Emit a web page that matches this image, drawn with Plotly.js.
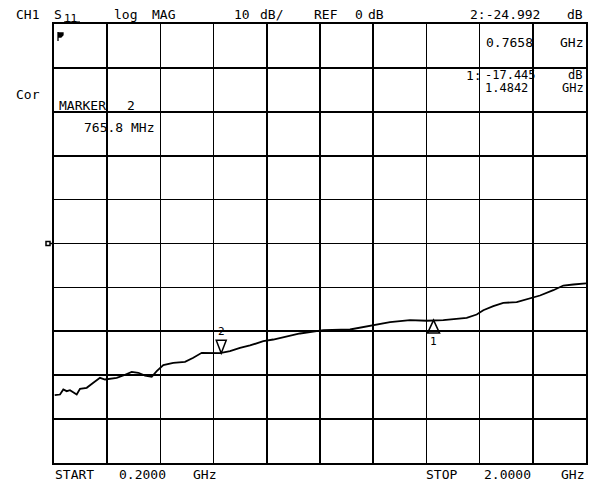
<!DOCTYPE html>
<html>
<head>
<meta charset="utf-8">
<script src="https://cdn.plot.ly/plotly-3.0.1.min.js"></script>
<style>html,body{margin:0;padding:0;background:#fff;}#chart{width:593px;height:483px;}</style>
</head>
<body>
<div id="chart"></div>
<script>
// Trace (frequency in GHz, S11 in dB)
const freqGHz = [0.2024,0.2203,0.2315,0.2430,0.2541,0.2653,0.2768,0.2880,0.3106,0.3330,0.3556,0.3726,0.3952,0.4121,0.4345,0.4629,0.4852,0.5079,0.5306,0.5475,0.5698,0.6036,0.6432,0.6713,0.6998,0.7278,0.7617,0.7955,0.8293,0.8632,0.9082,0.9420,0.9874,1.0323,1.0662,1.1112,1.2015,1.2692,1.3369,1.4045,1.4610,1.5172,1.5625,1.5963,1.6302,1.6525,1.6864,1.7202,1.7655,1.8105,1.8444,1.8894,1.9233,1.9570,1.9909,2.0000];
const s11dB = [-34.56,-34.40,-33.26,-33.64,-33.42,-33.87,-34.40,-33.10,-32.87,-31.73,-30.59,-30.98,-30.82,-30.59,-30.07,-29.23,-29.45,-30.07,-30.36,-29.09,-27.72,-27.18,-26.95,-26.04,-24.90,-24.90,-24.95,-24.53,-23.76,-23.23,-22.26,-21.87,-21.12,-20.50,-20.21,-19.75,-19.59,-18.84,-17.93,-17.47,-17.60,-17.47,-17.15,-16.92,-16.17,-15.19,-14.28,-13.51,-13.37,-12.60,-11.85,-10.64,-9.57,-9.34,-9.18,-9.10];

// Markers
const markerIds = ['1', '2'];
const markerFreq = [1.4842, 0.7658];
const markerDb = [-17.445, -24.992];

// Scale
const startGHz = 0.2, stopGHz = 2.0, divX = 10;
const refDb = 0, dbPerDiv = 10, divY = 10;

// Annotation texts: [text, left px, centre px, font size]
const textItems = [
  ['CH1', 15, 15, 13], ['S', 53, 15, 13], ['11', 63, 18, 11], ['log', 113, 15, 13], ['MAG', 151, 15, 13],
  ['10', 233, 15, 13], ['dB/', 259, 15, 13], ['REF', 313, 15, 13], ['0', 354, 15, 13], ['dB', 367, 15, 13],
  ['2:-24.992', 469, 15, 13], ['dB', 566, 15, 13],
  ['0.7658', 485, 43, 13], ['GHz', 559, 43, 13],
  ['1:', 465, 75, 13], ['-17.445', 484, 74.5, 12], ['dB', 567, 74.5, 12],
  ['1.4842', 484, 88, 12], ['GHz', 561, 88, 12],
  ['Cor', 15, 95, 13],
  ['MARKER', 58, 105, 13], ['2', 126, 105, 13],
  ['765.8', 83, 127, 13], ['MHz', 130, 127, 13],
  ['START', 54, 474, 13], ['0.2000', 118, 474, 13], ['GHz', 192, 474, 13],
  ['STOP', 425, 474, 13], ['2.0000', 483, 474, 13], ['GHz', 560, 474, 13]
];

const L = 54, T = 24, R = 586, B = 463;
const px = v => (v - L) / (R - L);
const py = v => (B - v) / (B - T);
const fam = 'DejaVu Sans Mono, monospace';

const annotations = textItems.map(t => ({
  text: t[0], xref: 'paper', yref: 'paper', x: px(t[1]), y: py(t[2]),
  xanchor: 'left', yanchor: 'middle', showarrow: false,
  font: {family: fam, size: t[3], color: '#000'}, borderpad: 0
}));
// marker labels
markerIds.forEach((id, i) => {
  annotations.push({
    text: id, xref: 'x', yref: 'y', x: markerFreq[i], y: markerDb[i],
    yshift: id === '2' ? 22 : -21, showarrow: false,
    font: {family: fam, size: 11, color: '#000'}
  });
});

const shapes = [];
markerIds.forEach((id, i) => {
  const path = id === '2' ? 'M0,0 L-5,13 L5,13 Z' : 'M0,0 L-6,-13 L6,-13 Z';
  shapes.push({
    type: 'path', xref: 'x', yref: 'y', xsizemode: 'pixel', ysizemode: 'pixel',
    xanchor: markerFreq[i], yanchor: markerDb[i], path: path,
    line: {color: '#000', width: 1.5}, fillcolor: 'rgba(0,0,0,0)'
  });
});
// reference position indicator
shapes.push({
  type: 'path', xref: 'paper', yref: 'y', xsizemode: 'pixel', ysizemode: 'pixel',
  xanchor: 0, yanchor: refDb, path: 'M-8,-2 L-4,-2 L-4,2 L-8,2 Z M-4,0 L0,0',
  line: {color: '#000', width: 1.5}, fillcolor: '#fff'
});
// small glyph top-left
shapes.push({
  type: 'path', xref: 'paper', yref: 'paper', xsizemode: 'pixel', ysizemode: 'pixel',
  xanchor: 0, yanchor: 1, path: 'M4,-9 L9,-9 L9,-11 L7,-13 L4,-13 Z M4,-8 L4,-17',
  line: {color: '#000', width: 1.3}, fillcolor: '#000'
});
// underline of subscript
shapes.push({
  type: 'line', xref: 'paper', yref: 'paper', x0: px(64), x1: px(80), y0: py(22), y1: py(22),
  line: {color: '#000', width: 1.2}
});

const data = [{
  x: freqGHz, y: s11dB, type: 'scatter', mode: 'lines',
  line: {color: '#000', width: 1.8}, hoverinfo: 'skip'
}];

const layout = {
  width: 593, height: 483,
  margin: {l: L, r: 593 - R, t: T, b: 483 - B, pad: 0},
  paper_bgcolor: '#fff', plot_bgcolor: '#fff',
  showlegend: false,
  xaxis: {
    range: [startGHz, stopGHz], tick0: startGHz, dtick: (stopGHz - startGHz) / divX,
    showgrid: true, gridcolor: '#000', gridwidth: 1.7,
    showline: true, mirror: true, linecolor: '#000', linewidth: 2,
    zeroline: false, showticklabels: false, ticks: '', fixedrange: true
  },
  yaxis: {
    range: [refDb - dbPerDiv * divY / 2, refDb + dbPerDiv * divY / 2], tick0: refDb, dtick: dbPerDiv,
    showgrid: true, gridcolor: '#000', gridwidth: 1.7,
    showline: true, mirror: true, linecolor: '#000', linewidth: 2,
    zeroline: true, zerolinecolor: '#000', zerolinewidth: 1.9,
    showticklabels: false, ticks: '', fixedrange: true
  },
  annotations: annotations,
  shapes: shapes
};

Plotly.newPlot('chart', data, layout, {displayModeBar: false, staticPlot: true});
</script>
</body>
</html>
